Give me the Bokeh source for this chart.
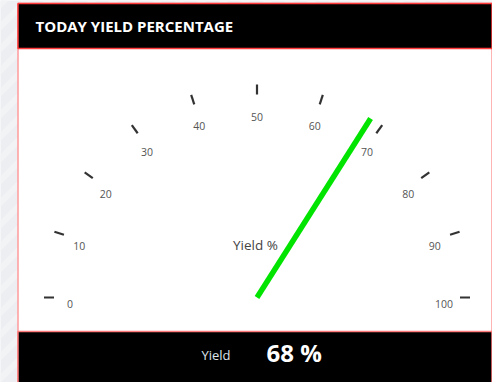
import numpy as np
from bokeh.plotting import figure
from bokeh.models import Range1d
from bokeh.core.properties import value
from bokeh.embed import file_html
from bokeh.resources import INLINE

# ---- data ----
title = "TODAY YIELD PERCENTAGE"
gauge_caption = "Yield %"
footer_label = "Yield"
yield_pct = 68
scale_min, scale_max = 0, 100
tick_values = [0, 10, 20, 30, 40, 50, 60, 70, 80, 90, 100]
tick_labels = ["0", "10", "20", "30", "40", "50", "60", "70", "80", "90", "100"]

W, H = 492, 382
FONT = value("Open Sans")

p = figure(width=W, height=H, x_range=Range1d(0, W), y_range=Range1d(H, 0),
           output_backend="svg", toolbar_location=None, min_border=0,
           outline_line_color=None, background_fill_color="#eceef1",
           border_fill_color="#eceef1")
p.axis.visible = False
p.grid.visible = False

# faint diagonal sheen on the page background
offs = np.arange(-400, 900, 22)
p.multi_line(xs=[[o, o + 420] for o in offs], ys=[[H, -38] for o in offs],
             line_color="#f4f5f7", line_width=6, line_alpha=0.7)

# panel body, header and footer
PX0, PX1 = 17.5, 491.5
p.quad(left=PX0, right=PX1, top=3, bottom=H + 2, fill_color="white",
       line_color="#ff9a9a", line_width=1.5)
p.quad(left=PX0, right=PX1, top=3, bottom=48, fill_color="black",
       line_color="#ff3b3b", line_width=1.5)
p.quad(left=PX0, right=PX1, top=331, bottom=H + 2, fill_color="black",
       line_color="#ff7a7a", line_width=1.5)

p.text(x=[35], y=[25.5], text=[title], text_color="white", text_font=FONT,
       text_font_style="bold", text_font_size="15px", text_baseline="middle")

# ---- gauge ----
cx, cy = 256.5, 297
r_in, r_out = 203, 213
lcx, lcy, r_lab = 256.5, 303, 187


def ang(v):
    return np.pi * (1 - (np.asarray(v, dtype=float) - scale_min) / (scale_max - scale_min))


a = ang(tick_values)
p.segment(x0=cx + r_in * np.cos(a), y0=cy - r_in * np.sin(a),
          x1=cx + r_out * np.cos(a), y1=cy - r_out * np.sin(a),
          line_color="#333333", line_width=2.2)
p.text(x=lcx + r_lab * np.cos(a), y=lcy - r_lab * np.sin(a), text=tick_labels,
       text_color="#555555", text_font=FONT, text_font_size="10.5px",
       text_align="center", text_baseline="middle")

p.text(x=[cx - 1.5], y=[244], text=[gauge_caption], text_color="#444444", text_font=FONT,
       text_font_size="13.5px", text_align="center", text_baseline="middle")

na = ang(yield_pct)
r_needle = 212
p.segment(x0=[cx], y0=[cy], x1=[cx + r_needle * np.cos(na)], y1=[cy - r_needle * np.sin(na)],
          line_color="#00e400", line_width=5.5, line_cap="butt")

# ---- footer readout ----
p.text(x=[215.5], y=[354], text=[footer_label], text_color="#dde3ea", text_font=FONT,
       text_font_size="13px", text_align="center", text_baseline="middle")
p.text(x=[266], y=[352], text=[f"{yield_pct} %"], text_color="white", text_font=FONT,
       text_font_style="bold", text_font_size="24px", text_baseline="middle")

open("out.html", "w").write(file_html(p, INLINE))
